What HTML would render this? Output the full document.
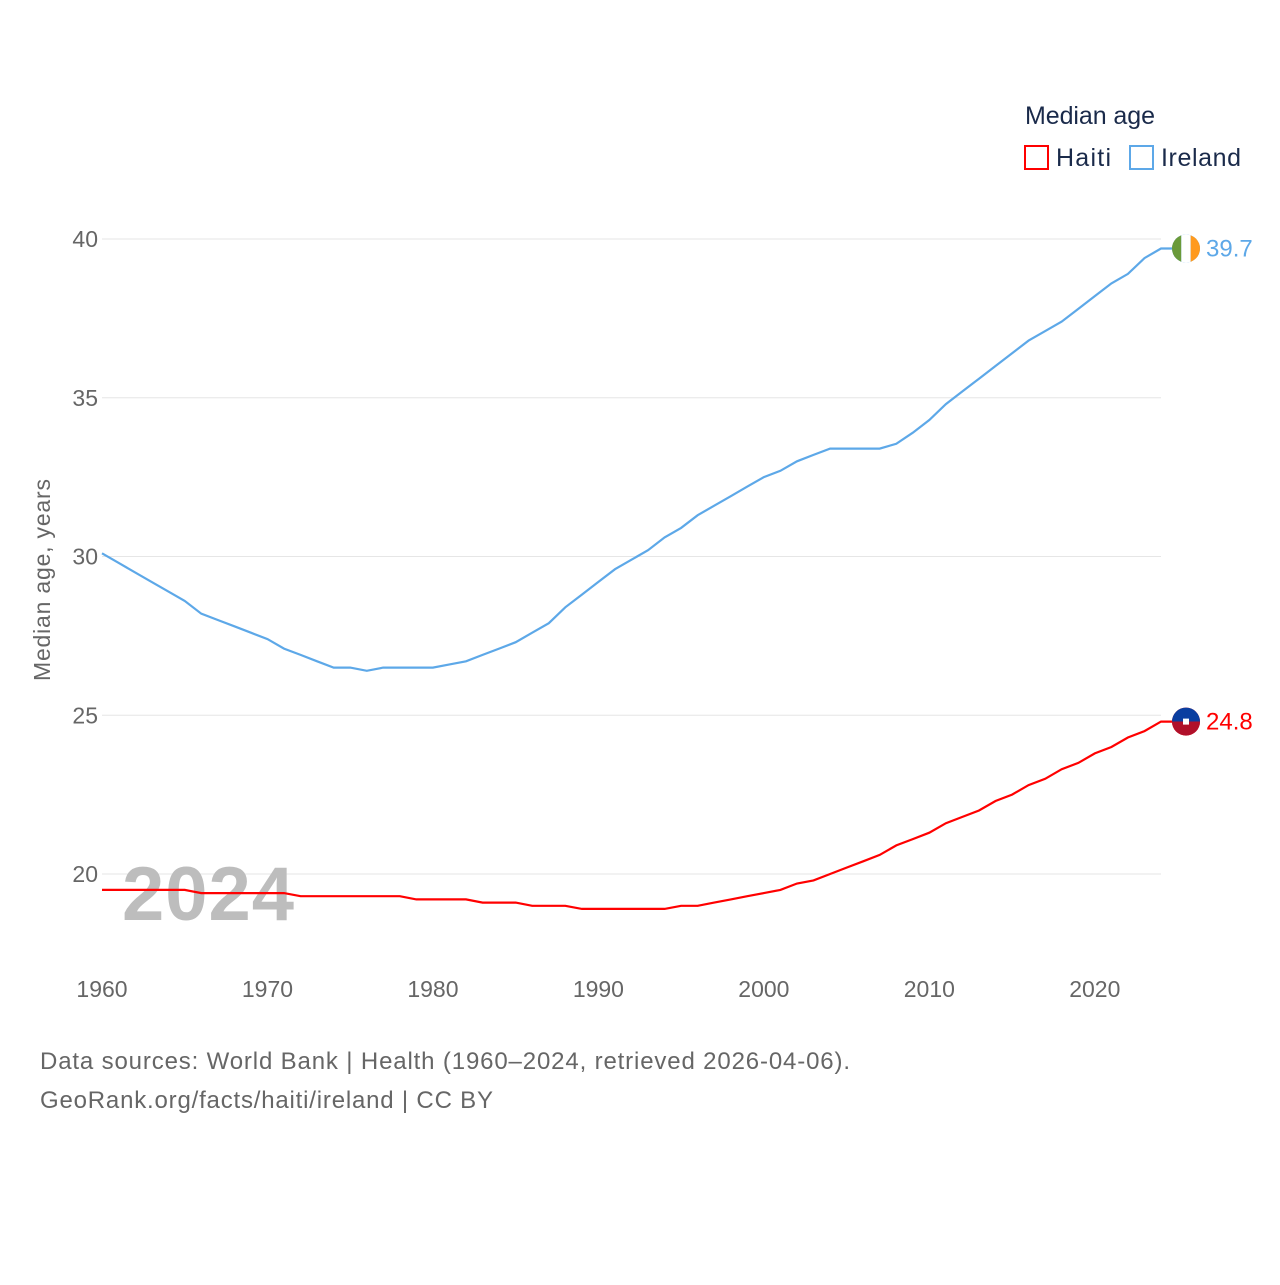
<!DOCTYPE html>
<html><head><meta charset="utf-8"><style>
body{margin:0;background:#fff;font-family:"Liberation Sans",sans-serif}
svg text{font-family:"Liberation Sans",sans-serif}
</style></head><body>
<svg id="chart" width="1280" height="1280" viewBox="0 0 1280 1280">
<rect width="1280" height="1280" fill="#fff"/>
<g id="grid"></g>
<text x="122" y="920" font-size="76" font-weight="bold" fill="#bdbdbd" textLength="172">2024</text>
<g id="lines"></g>
<text transform="translate(50,580) rotate(-90)" text-anchor="middle" font-size="23" fill="#666" textLength="202">Median age, years</text>
<g>
<text x="1025" y="124" font-size="25" fill="#1a2a4a" textLength="130">Median age</text>
<rect x="1025" y="146" width="23" height="23" fill="none" stroke="#f00" stroke-width="2"/>
<text x="1056" y="166" font-size="25" fill="#1a2a4a" textLength="55">Haiti</text>
<rect x="1130" y="146" width="23" height="23" fill="none" stroke="#5da8e8" stroke-width="2"/>
<text x="1161" y="166" font-size="25" fill="#1a2a4a" textLength="80">Ireland</text>
</g>
<text x="40" y="1069" font-size="24" fill="#666" textLength="810">Data sources: World Bank | Health (1960–2024, retrieved 2026-04-06).</text>
<text x="40" y="1108" font-size="24" fill="#666" textLength="453">GeoRank.org/facts/haiti/ireland | CC BY</text>
</svg>
<script>
const years=[];for(let y=1960;y<=2024;y++)years.push(y);
const ireland=[30.1,29.8,29.5,29.2,28.9,28.6,28.2,28.0,27.8,27.6,27.4,27.1,26.9,26.7,26.5,26.5,26.4,26.5,26.5,26.5,26.5,26.6,26.7,26.9,27.1,27.3,27.6,27.9,28.4,28.8,29.2,29.6,29.9,30.2,30.6,30.9,31.3,31.6,31.9,32.2,32.5,32.7,33.0,33.2,33.4,33.4,33.4,33.4,33.55,33.9,34.3,34.8,35.2,35.6,36.0,36.4,36.8,37.1,37.4,37.8,38.2,38.6,38.9,39.4,39.7];
const haiti=[19.5,19.5,19.5,19.5,19.5,19.5,19.4,19.4,19.4,19.4,19.4,19.4,19.3,19.3,19.3,19.3,19.3,19.3,19.3,19.2,19.2,19.2,19.2,19.1,19.1,19.1,19.0,19.0,19.0,18.9,18.9,18.9,18.9,18.9,18.9,19.0,19.0,19.1,19.2,19.3,19.4,19.5,19.7,19.8,20.0,20.2,20.4,20.6,20.9,21.1,21.3,21.6,21.8,22.0,22.3,22.5,22.8,23.0,23.3,23.5,23.8,24.0,24.3,24.5,24.8];
const yTicks=[20,25,30,35,40];
const xTicks=[1960,1970,1980,1990,2000,2010,2020];
const NS='http://www.w3.org/2000/svg';
const X=v=>102+(v-1960)*(1161-102)/64;
const Y=v=>239+(40-v)*31.75;
const grid=document.getElementById('grid'),lines=document.getElementById('lines'),svg=document.getElementById('chart');
function mk(t,a,p){const e=document.createElementNS(NS,t);for(const k in a)e.setAttribute(k,a[k]);(p||svg).appendChild(e);return e;}
yTicks.forEach(t=>{
 const l=mk('line',{x1:102,x2:1161,y1:Y(t),y2:Y(t),stroke:'#e6e6e6','stroke-width':1},grid);
 
 
 const tx=mk('text',{x:98,y:Y(t)+8,'text-anchor':'end','font-size':23,fill:'#666'},grid);tx.textContent=t;
 
 
});
xTicks.forEach(t=>{
 const tx=mk('text',{x:X(t),y:997,'text-anchor':'middle','font-size':23,fill:'#666'},grid);tx.textContent=t;
 
 
});
function series(vals,color,name){
 let d=vals.map((v,i)=>(i?'L':'M')+X(years[i]).toFixed(1)+','+Y(v).toFixed(1)).join('');
 const last=vals[vals.length-1];
 d+='L1172,'+Y(last).toFixed(1);
 const p=mk('path',{d:d,fill:'none',stroke:color,'stroke-width':2.2},lines);
 
 
 const c=mk('circle',{cx:1186,cy:Y(last),r:14,fill:color},lines);
 
 
 const lb=mk('text',{x:1206,y:Y(last)+8,'font-size':24,fill:color},lines);lb.textContent=last.toFixed(1);
 
 
 return c;
}
series(ireland,'#5da8e8','ireland');
series(haiti,'#f00','haiti');
const iy=Y(ireland[64]);
const ig=mk('rect',{x:1172,y:iy-14,width:9.3,height:28,fill:'#6a9a3a'},lines);
const iw=mk('rect',{x:1181.3,y:iy-14,width:9.4,height:28,fill:'#fff'},lines);
const io=mk('rect',{x:1190.7,y:iy-14,width:9.3,height:28,fill:'#ff9a1e'},lines);
const cp=mk('clipPath',{id:'ic'});mk('circle',{cx:1186,cy:iy,r:14},cp);
[ig,iw,io].forEach(e=>e.setAttribute('clip-path','url(#ic)'));
const hy=Y(haiti[64]);
const hb=mk('path',{d:`M1172,${hy} A14,14 0 0 1 1200,${hy} Z`,fill:'#0a3ea0'},lines);
const hr=mk('path',{d:`M1172,${hy} A14,14 0 0 0 1200,${hy} Z`,fill:'#b0102a'},lines);
const hw=mk('rect',{x:1183,y:hy-3,width:6,height:6,fill:'#fff'},lines);
</script>
</body></html>
